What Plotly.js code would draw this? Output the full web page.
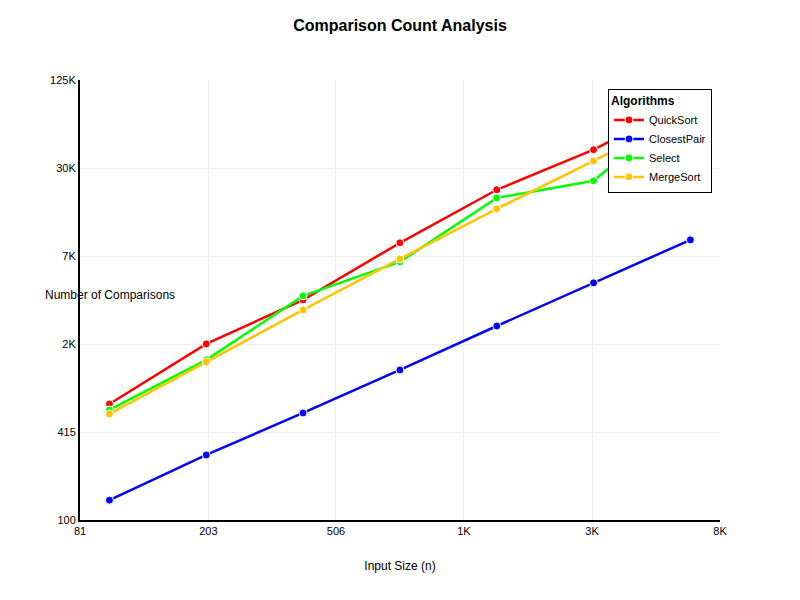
<!DOCTYPE html>
<html>
<head>
<script src="https://cdn.plot.ly/plotly-3.0.1.min.js"></script>
<style>body{margin:0}</style>
</head>
<body>
<div id="chart" style="width:800px;height:600px"></div>
<script>
// input sizes
const sizes = [100, 200, 400, 800, 1600, 3200, 6400];
const quickSort = [656, 1735, 3540, 8930, 21100, 40400, 89300];
const closestPair = [138, 287, 567, 1138, 2320, 4670, 9370];
const select = [595, 1340, 3780, 6560, 18500, 24400, 88000];
const mergeSort = [558, 1297, 3010, 6890, 15500, 33700, 75900];

const xTickVals = [81, 203, 506, 1265, 3164, 7910];
const xTickText = ["81", "203", "506", "1K", "3K", "8K"];
const yTickVals = [100, 416, 1732, 7211, 30000, 125000];
const yTickText = ["100", "415", "2K", "7K", "30K", "125K"];

function series(name, y, color) {
  return {
    x: sizes, y: y, name: name, type: "scatter", mode: "lines+markers",
    line: {color: color, width: 2.5},
    marker: {color: color, size: 8, line: {color: "white", width: 1}}
  };
}

const traces = [
  series("QuickSort", quickSort, "#ff0000"),
  series("ClosestPair", closestPair, "#0000ff"),
  series("Select", select, "#00ff00"),
  series("MergeSort", mergeSort, "#ffc400")
];

const layout = {
  width: 800, height: 600,
  margin: {l: 80, r: 80, t: 80, b: 80},
  paper_bgcolor: "white", plot_bgcolor: "white",
  font: {family: "Liberation Sans, Arial, sans-serif", size: 11, color: "black"},
  title: {text: "<b>Comparison Count Analysis</b>", x: 0.5, y: 0.967, font: {size: 16}},
  showlegend: true,
  legend: {
    x: 0.825, y: 0.98, xanchor: "left", yanchor: "top",
    bordercolor: "black", borderwidth: 1, bgcolor: "white",
    title: {text: "<b>Algorithms</b>", font: {size: 12}},
    font: {size: 11}, tracegroupgap: 6
  },
  xaxis: {
    type: "log", range: [Math.log10(81), Math.log10(7910)],
    tickvals: xTickVals, ticktext: xTickText,
    showline: true, linecolor: "black", linewidth: 2,
    gridcolor: "#eeeeee", zeroline: false, ticks: "",
    title: {text: "Input Size (n)", standoff: 25, font: {size: 12}}
  },
  yaxis: {
    type: "log", range: [2, Math.log10(125000)],
    tickvals: yTickVals, ticktext: yTickText,
    showline: true, linecolor: "black", linewidth: 2,
    gridcolor: "#eeeeee", zeroline: false, ticks: ""
  },
  annotations: [{
    text: "Number of Comparisons", xref: "paper", yref: "paper",
    x: -0.058, y: 0.511, showarrow: false, font: {size: 12}
  }]
};

Plotly.newPlot("chart", traces, layout, {displayModeBar: false});
</script>
</body>
</html>
